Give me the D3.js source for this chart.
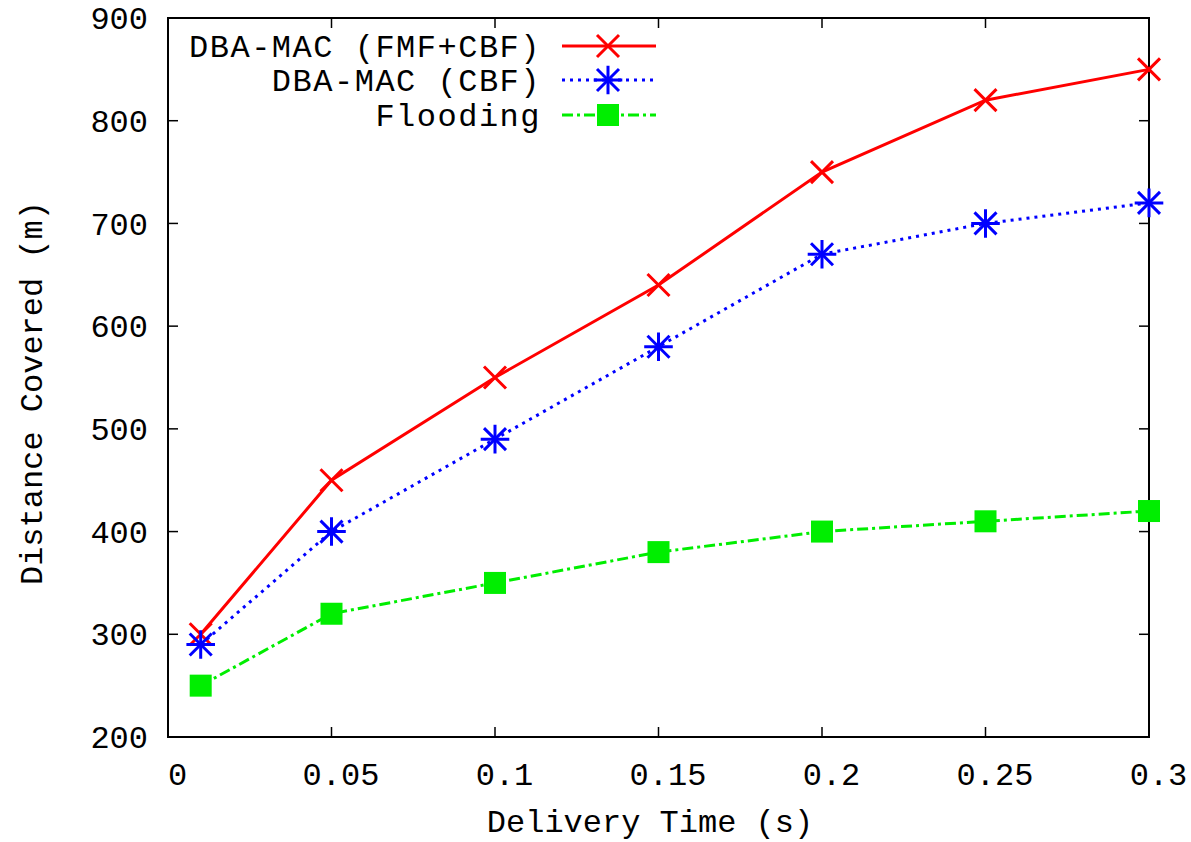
<!DOCTYPE html>
<html><head><meta charset="utf-8">
<script src="https://cdn.jsdelivr.net/npm/d3@7"></script>
<style>body{margin:0;background:#fff}svg{display:block}text{font-family:"Liberation Mono","Courier New",monospace;fill:#000}</style>
</head><body><svg id="c" width="1191" height="842"></svg>
<script>
const xValues = [0.01, 0.05, 0.1, 0.15, 0.2, 0.25, 0.3];
const fmfCbf = [300, 450, 550, 640, 750, 820, 850];
const cbf = [290, 400, 490, 580, 670, 700, 720];
const flooding = [250, 320, 350, 380, 400, 410, 420];
const seriesNames = ["DBA-MAC (FMF+CBF)", "DBA-MAC (CBF)", "Flooding"];
const xTicks = [0, 0.05, 0.1, 0.15, 0.2, 0.25, 0.3];
const xTickLabels = ["0", "0.05", "0.1", "0.15", "0.2", "0.25", "0.3"];
const yTicks = [200, 300, 400, 500, 600, 700, 800, 900];

const svg = d3.select("#c");
const L = 168, R = 1149, T = 18, B = 737;
const x = d3.scaleLinear().domain([0, 0.3]).range([L, R]);
const y = d3.scaleLinear().domain([200, 900]).range([B, T]);
const tl = 10;
const fs = "32px";

const g = svg.append("g");
xTicks.forEach((t, i) => {
  g.append("line").attr("x1", x(t)).attr("x2", x(t)).attr("y1", B).attr("y2", B - tl).attr("stroke", "#000").attr("stroke-width", 1.5);
  g.append("line").attr("x1", x(t)).attr("x2", x(t)).attr("y1", T).attr("y2", T + tl).attr("stroke", "#000").attr("stroke-width", 1.5);
  g.append("text").attr("x", x(t) + 9.5).attr("y", 785).attr("text-anchor", "middle")
    .style("font-size", fs).text(xTickLabels[i]);
});
yTicks.forEach(t => {
  g.append("line").attr("x1", L).attr("x2", L + tl).attr("y1", y(t)).attr("y2", y(t)).attr("stroke", "#000").attr("stroke-width", 1.5);
  g.append("line").attr("x1", R).attr("x2", R - tl).attr("y1", y(t)).attr("y2", y(t)).attr("stroke", "#000").attr("stroke-width", 1.5);
  g.append("text").attr("x", 148).attr("y", y(t)).attr("dy", "0.35em").attr("text-anchor", "end")
    .style("font-size", fs).text(t);
});
g.append("rect").attr("x", L).attr("y", T).attr("width", R - L).attr("height", B - T)
  .attr("fill", "none").attr("stroke", "#000").attr("stroke-width", 2);

svg.append("text").attr("x", 650).attr("y", 832).attr("text-anchor", "middle").style("font-size", fs).text("Delivery Time (s)");
svg.append("text").attr("transform", "translate(42,393) rotate(-90)").attr("text-anchor", "middle").style("font-size", fs).text("Distance Covered (m)");

const series = [
  {vals: fmfCbf, color: "#ff0000", dash: null, marker: "x"},
  {vals: cbf, color: "#0000ff", dash: "3,5", marker: "star"},
  {vals: flooding, color: "#00ee00", dash: "11,4,3,4", marker: "sq"}
];

function drawMarker(sel, type, cx, cy, color) {
  const s = 11;
  if (type === "x" || type === "star") {
    sel.append("path").attr("d", `M${cx - s},${cy - s}L${cx + s},${cy + s}M${cx - s},${cy + s}L${cx + s},${cy - s}`)
      .attr("stroke", color).attr("stroke-width", 3).attr("fill", "none");
    if (type === "star") {
      sel.append("path").attr("d", `M${cx - s * 1.3},${cy}L${cx + s * 1.3},${cy}M${cx},${cy - s * 1.3}L${cx},${cy + s * 1.3}`)
        .attr("stroke", color).attr("stroke-width", 3).attr("fill", "none");
    }
  } else {
    sel.append("rect").attr("x", cx - 11).attr("y", cy - 11).attr("width", 22).attr("height", 22).attr("fill", color);
  }
}

const line = d3.line().x(d => x(d[0])).y(d => y(d[1]));
series.forEach(s => {
  const pts = xValues.map((v, i) => [v, s.vals[i]]);
  svg.append("path").attr("d", line(pts)).attr("fill", "none").attr("stroke", s.color).attr("stroke-width", 3)
    .attr("stroke-dasharray", s.dash);
  const mg = svg.append("g");
  pts.forEach(p => drawMarker(mg, s.marker, x(p[0]), y(p[1]), s.color));
});

const legY = [46, 80, 115];
series.forEach((s, i) => {
  svg.append("text").attr("x", 541).attr("y", legY[i]).attr("dy", "0.35em").attr("text-anchor", "end")
    .style("font-size", fs).style("letter-spacing", "1.5px").text(seriesNames[i]);
  svg.append("line").attr("x1", 562).attr("x2", 656).attr("y1", legY[i]).attr("y2", legY[i])
    .attr("stroke", s.color).attr("stroke-width", 3).attr("stroke-dasharray", s.dash);
  drawMarker(svg, s.marker, 608, legY[i], s.color);
});
</script></body></html>
